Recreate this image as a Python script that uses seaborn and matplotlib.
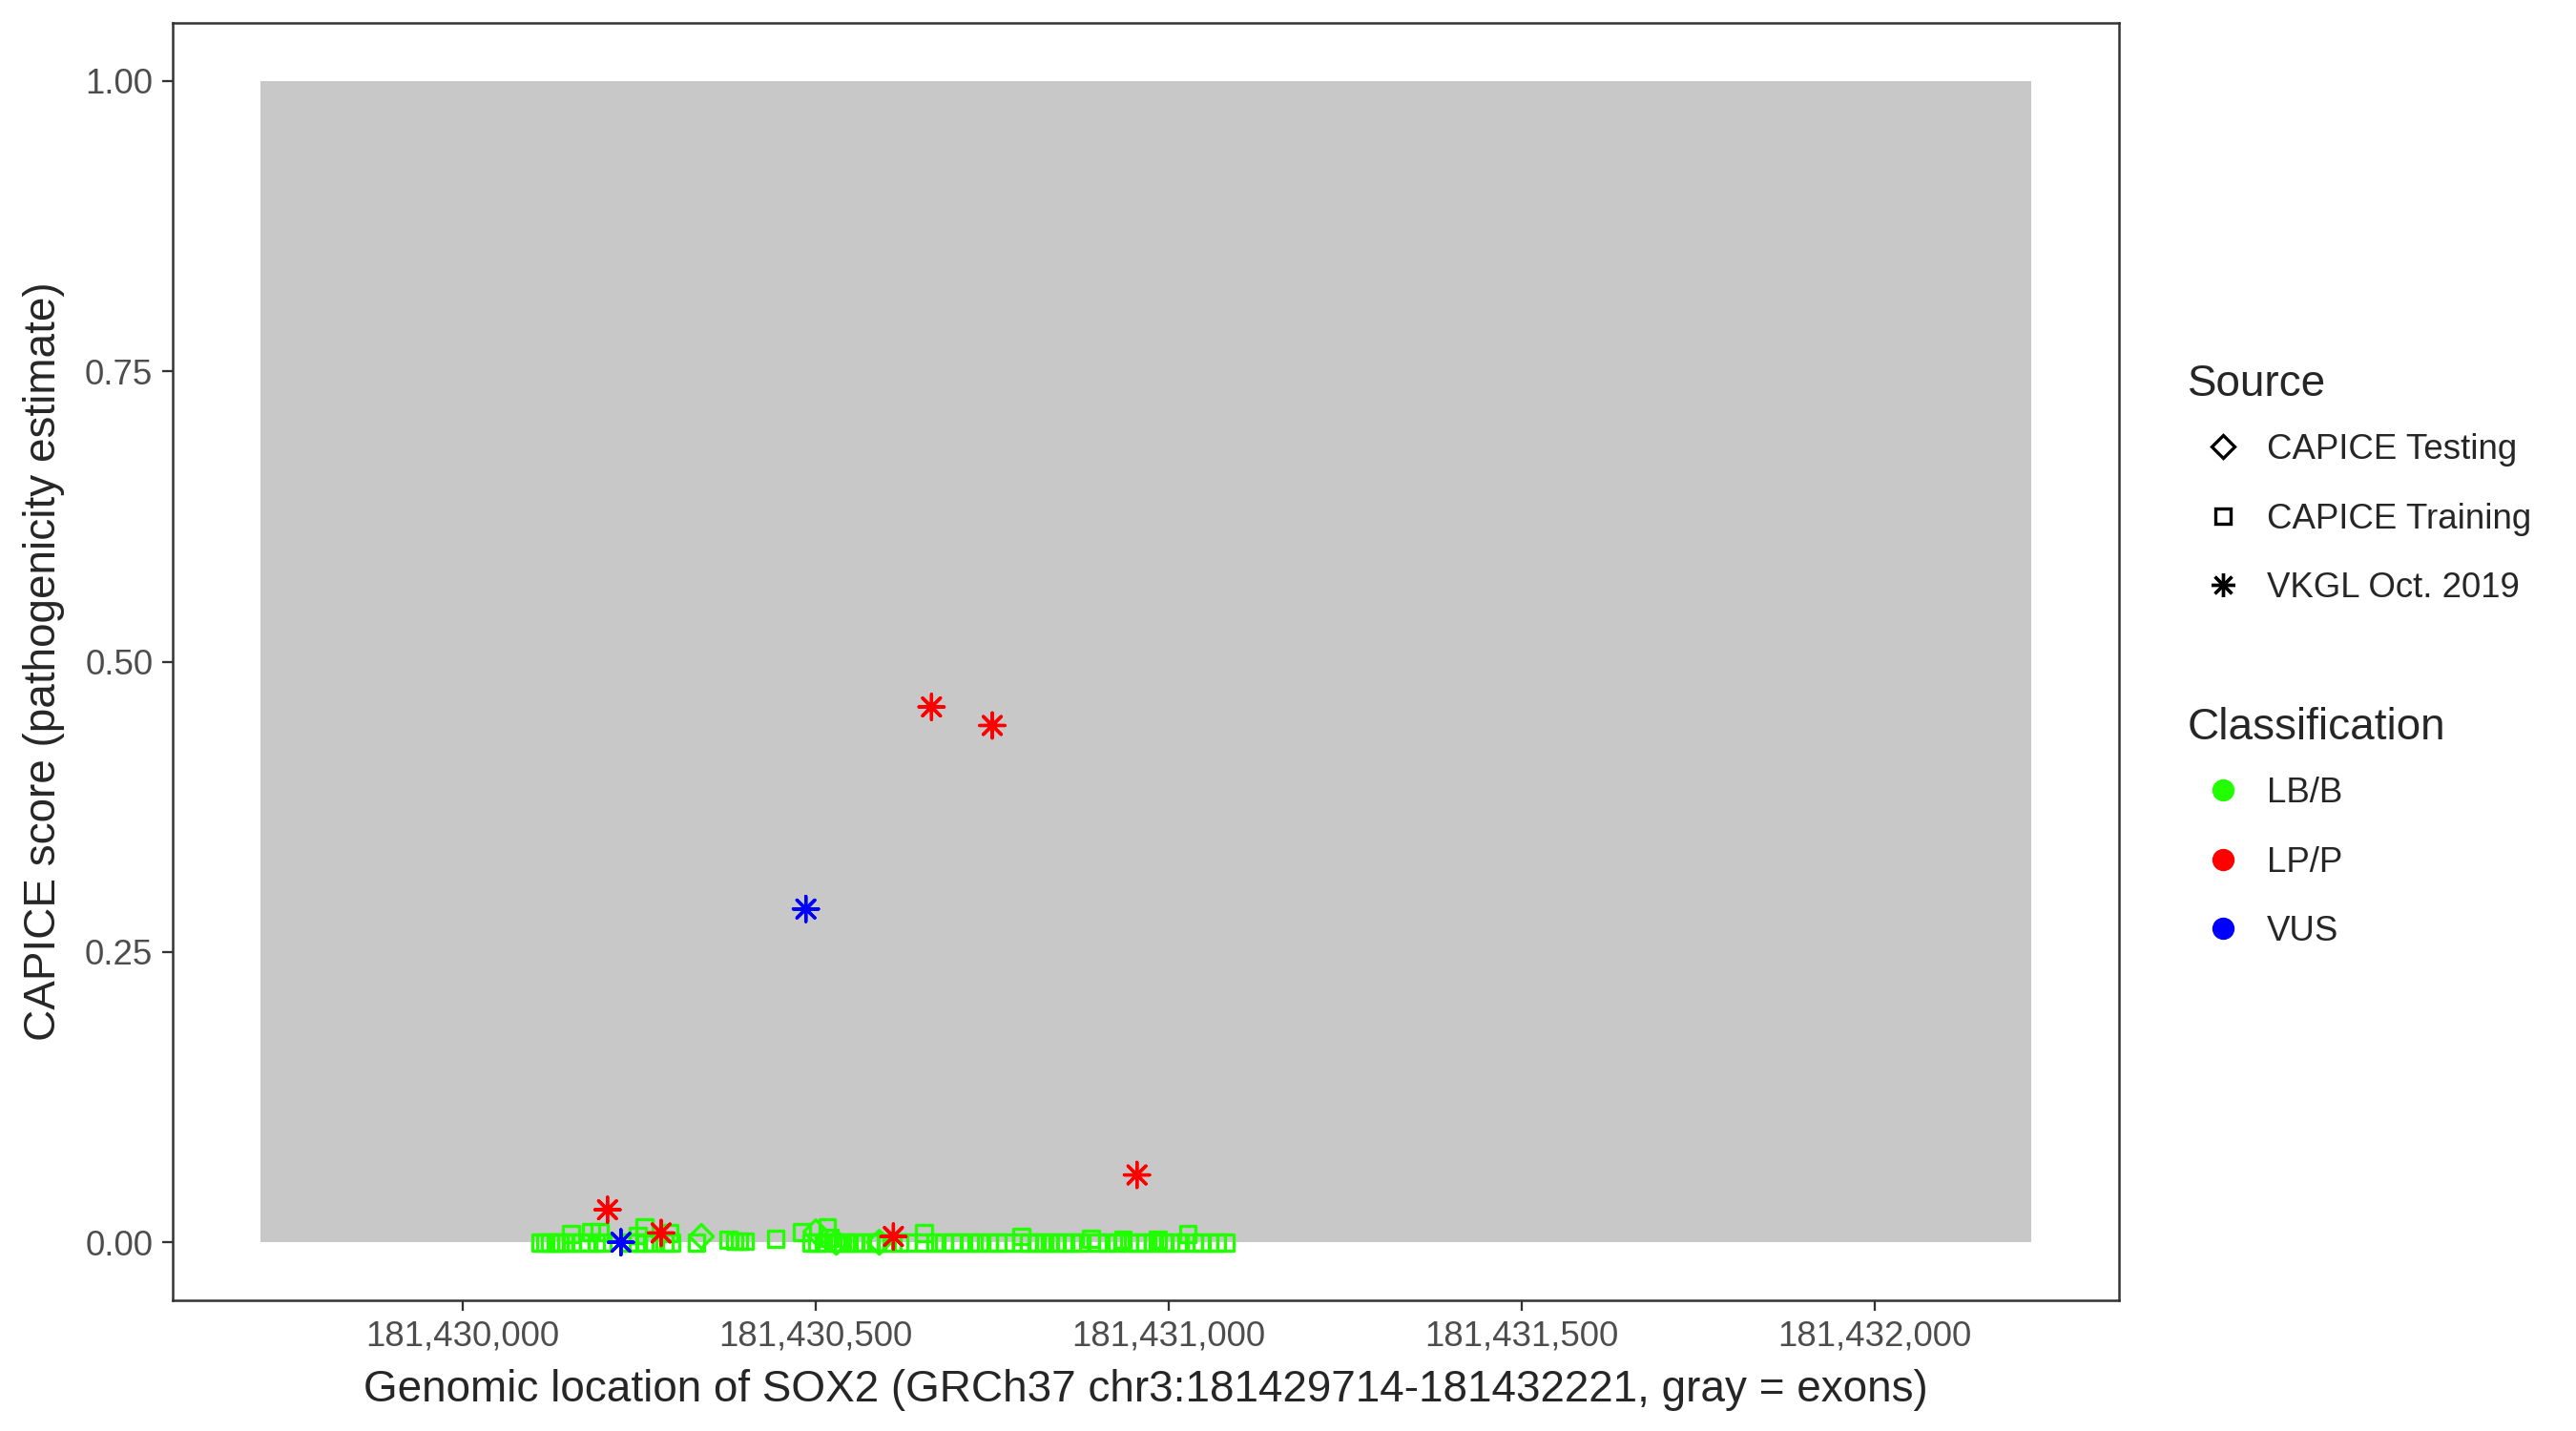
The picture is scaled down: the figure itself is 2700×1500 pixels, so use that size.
import matplotlib
matplotlib.use("Agg")
import matplotlib.pyplot as plt
import seaborn as sns
import pandas as pd
from matplotlib.lines import Line2D

# exon of SOX2 (GRCh37)
exon_start = [181429714]
exon_end = [181432221]

# CAPICE Training variants (all LB/B)
train_pos = [
    181430110, 181430117, 181430124, 181430131, 181430137, 181430146, 181430153,
    181430155, 181430167, 181430178, 181430182, 181430189, 181430194, 181430198,
    181430236, 181430248, 181430248, 181430257, 181430257, 181430268, 181430286,
    181430293, 181430295, 181430331, 181430376, 181430385, 181430392, 181430400,
    181430443, 181430480, 181430493, 181430502, 181430511, 181430516, 181430520,
    181430529, 181430538, 181430547, 181430556, 181430565, 181430577, 181430585,
    181430588, 181430601, 181430619, 181430631, 181430653, 181430653, 181430669,
    181430682, 181430694, 181430705, 181430718, 181430732, 181430746, 181430757,
    181430768, 181430791, 181430791, 181430802, 181430813, 181430824, 181430831,
    181430842, 181430854, 181430863, 181430874, 181430890, 181430899, 181430912,
    181430926, 181430935, 181430944, 181430955, 181430966, 181430977, 181430984,
    181430993, 181431002, 181431016, 181431027, 181431036, 181431047, 181431058,
    181431068, 181431080,
]
train_score = [
    0.000, 0.000, 0.000, 0.000, 0.000, 0.000, 0.007,
    0.000, 0.000, 0.000, 0.009, 0.000, 0.009, 0.000,
    0.000, 0.006, 0.000, 0.013, 0.000, 0.000, 0.000,
    0.008, 0.000, 0.000, 0.002, 0.001, 0.001, 0.001,
    0.003, 0.009, 0.000, 0.000, 0.000, 0.013, 0.004,
    0.000, 0.000, 0.000, 0.000, 0.000, 0.000, 0.000,
    0.000, 0.000, 0.000, 0.000, 0.008, 0.000, 0.000,
    0.000, 0.000, 0.000, 0.000, 0.000, 0.000, 0.000,
    0.000, 0.005, 0.000, 0.000, 0.000, 0.000, 0.000,
    0.000, 0.000, 0.000, 0.000, 0.003, 0.000, 0.000,
    0.000, 0.002, 0.000, 0.000, 0.000, 0.000, 0.002,
    0.000, 0.000, 0.000, 0.007, 0.000, 0.000, 0.000,
    0.000, 0.000,
]

# CAPICE Testing variants (all LB/B)
test_pos = [181430338, 181430500, 181430529, 181430590]
test_score = [0.005, 0.009, 0.000, 0.000]

# VKGL Oct. 2019 variants
vkgl_pos = [181430205, 181430281, 181430610, 181430664, 181430750, 181430955,
            181430224, 181430486]
vkgl_score = [0.028, 0.008, 0.005, 0.461, 0.445, 0.058, 0.000, 0.287]
vkgl_class = ["LP/P", "LP/P", "LP/P", "LP/P", "LP/P", "LP/P", "VUS", "VUS"]

sources = ["CAPICE Testing", "CAPICE Training", "VKGL Oct. 2019"]
classes = ["LB/B", "LP/P", "VUS"]
class_colors = {"LB/B": "#22FF00", "LP/P": "#FF0000", "VUS": "#0000FF"}
xticks = [181430000, 181430500, 181431000, 181431500, 181432000]

df = pd.concat([
    pd.DataFrame({"pos": test_pos, "score": test_score,
                  "source": "CAPICE Testing", "cls": "LB/B"}),
    pd.DataFrame({"pos": train_pos, "score": train_score,
                  "source": "CAPICE Training", "cls": "LB/B"}),
    pd.DataFrame({"pos": vkgl_pos, "score": vkgl_score,
                  "source": "VKGL Oct. 2019", "cls": vkgl_class}),
], ignore_index=True)

sns.set_style("ticks")
plt.rcParams["font.family"] = ["Liberation Sans", "DejaVu Sans"]

fig = plt.figure(figsize=(9, 5), dpi=300)
ax = fig.add_axes([0.067, 0.0913, 0.7556, 0.8927])

for s, e in zip(exon_start, exon_end):
    ax.fill_between([s, e], 0, 1, color="#C8C8C8", lw=0, zorder=0)

markers = {"CAPICE Testing": "D", "CAPICE Training": "s", "VKGL Oct. 2019": (8, 2, 0)}
sizes = {"CAPICE Testing": 18, "CAPICE Training": 16, "VKGL Oct. 2019": 40}
for src in sources:
    sub = df[df["source"] == src]
    sns.scatterplot(data=sub, x="pos", y="score", hue="cls", palette=class_colors,
                    marker=markers[src], s=sizes[src], linewidth=0.8,
                    legend=False, ax=ax, zorder=3)
    coll = ax.collections[-1]
    if src != "VKGL Oct. 2019":
        fc = coll.get_facecolors()
        coll.set_edgecolors(fc)
        coll.set_facecolors("none")
    coll.set_linewidth(0.8)

ax.set_xlim(181429589, 181432346)
ax.set_ylim(-0.05, 1.05)
ax.set_xticks(xticks)
ax.set_xticklabels([f"{t:,}" for t in xticks])
ax.set_yticks([0, 0.25, 0.5, 0.75, 1.0])
ax.set_yticklabels(["0.00", "0.25", "0.50", "0.75", "1.00"])
ax.tick_params(length=2.75, width=0.55, color="#333333", labelsize=8.8,
               labelcolor="#4D4D4D", pad=2.2)
for sp in ax.spines.values():
    sp.set_visible(True)
    sp.set_color("#333333")
    sp.set_linewidth(0.6)

ax.set_xlabel("Genomic location of SOX2 (GRCh37 chr3:181429714-181432221, gray = exons)",
              fontsize=11, labelpad=4)
ax.set_ylabel("CAPICE score (pathogenicity estimate)", fontsize=11, labelpad=5)

src_handles = [Line2D([], [], linestyle="", marker=markers[s], color="black",
                      markerfacecolor="none", markersize=ms, markeredgewidth=0.8)
               for s, ms in zip(sources, [4.2, 4.0, 6.0])]
cls_handles = [Line2D([], [], linestyle="", marker="o", color=class_colors[c],
                      markersize=4.6) for c in classes]

leg_kw = dict(frameon=False, fontsize=8.8, title_fontsize=11, alignment="left",
              handlelength=2.0, handletextpad=0.25, labelspacing=1.02,
              borderpad=0, borderaxespad=0, loc="upper left")
leg1 = fig.legend(src_handles, sources, title="Source",
                  bbox_to_anchor=(0.8493, 0.746), **leg_kw)
leg2 = fig.legend(cls_handles, classes, title="Classification",
                  bbox_to_anchor=(0.8493, 0.506), **leg_kw)
# tighten gap between legend title and its entries
for leg in (leg1, leg2):
    leg._legend_box.sep = 7.0

fig.savefig("out.png", dpi=300)
